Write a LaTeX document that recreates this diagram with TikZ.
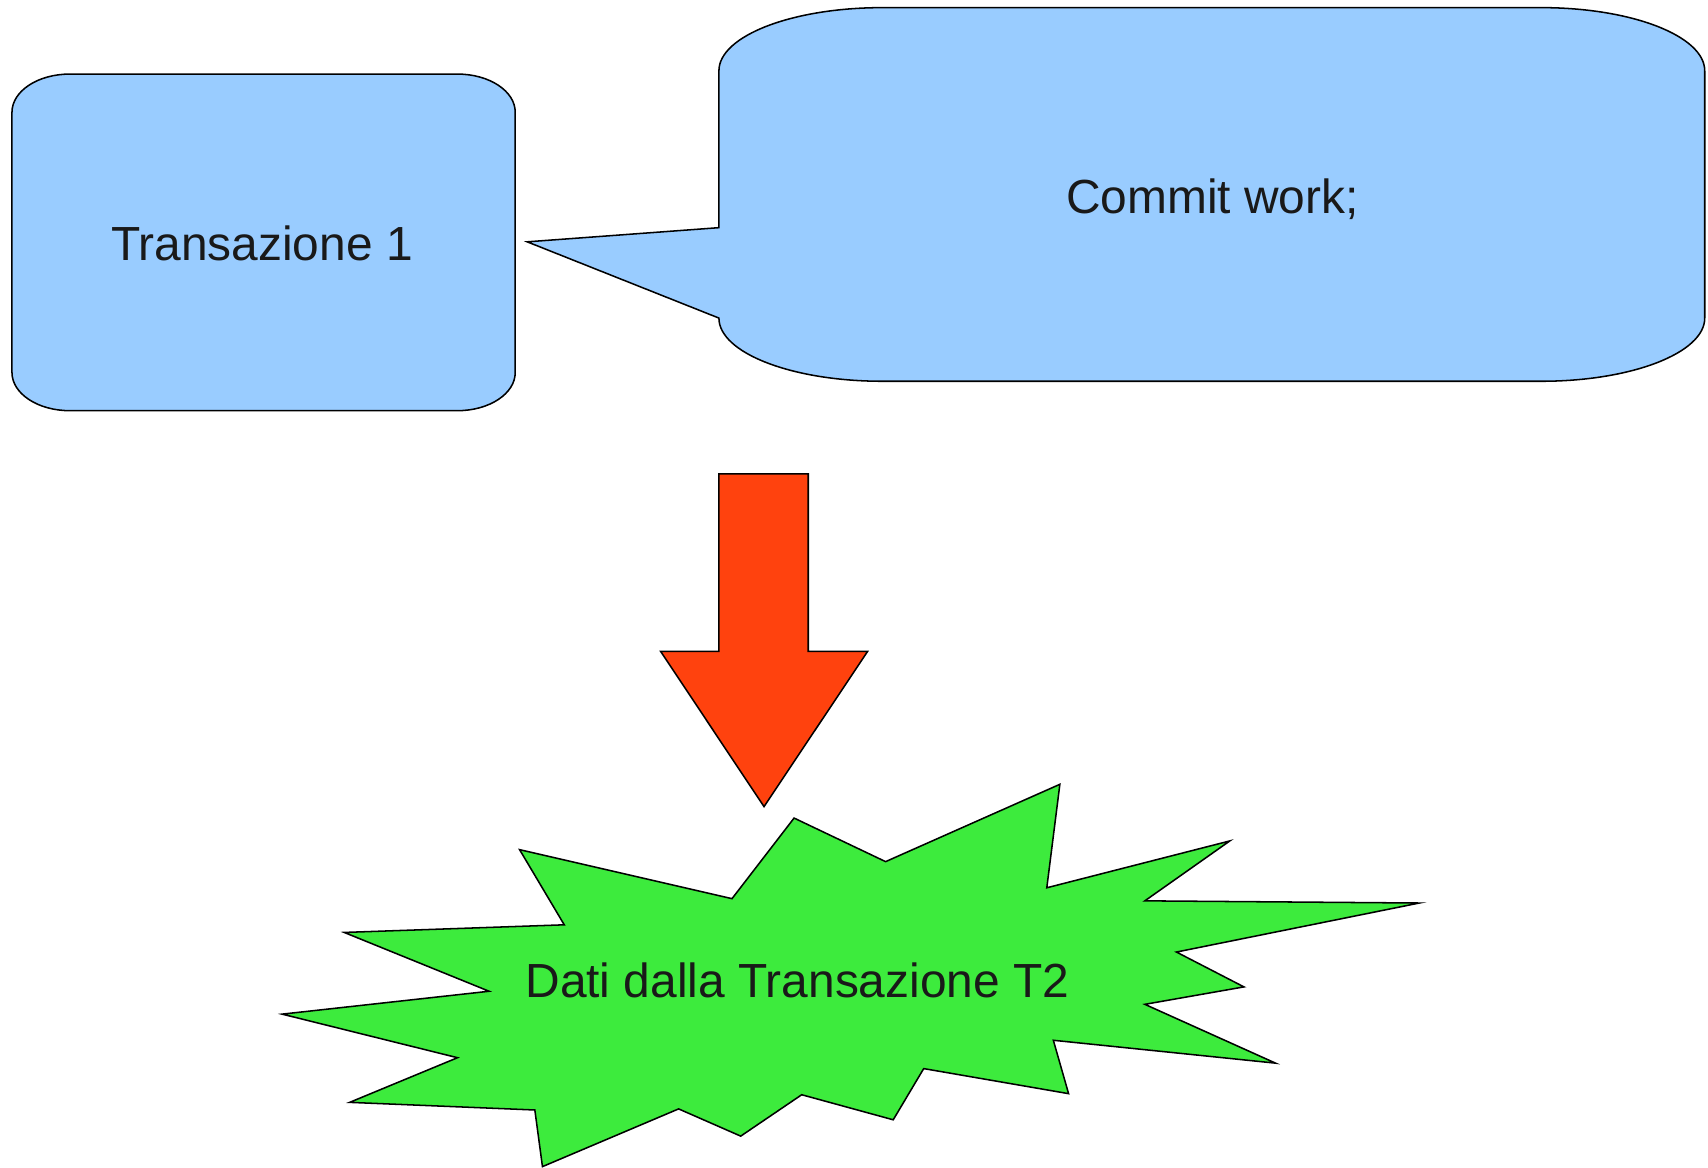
\documentclass[tikz,border=0pt]{standalone}
\usepackage{fontspec}
\setmainfont{Liberation Sans}
\definecolor{boxblue}{HTML}{99CCFF}
\definecolor{arrowred}{HTML}{FF420E}
\definecolor{stargreen}{HTML}{3DEB3D}
\begin{document}
\begin{tikzpicture}[x=0.01cm,y=-0.01cm,
  shapeline/.style={draw=black,line width=0.4pt,line join=miter},
  lbl/.style={font=\fontsize{12.5pt}{15pt}\selectfont,text=black!90,inner sep=0pt,anchor=base}]
\useasboundingbox (0,0) rectangle (1568,1072);
% Transazione 1 box
\path[shapeline,fill=boxblue] (11,103) -- (11,342) .. controls (11,361.3) and (34.7,377) .. (64,377)
  -- (420,377) .. controls (449.3,377) and (473,361.3) .. (473,342)
  -- (473,103) .. controls (473,83.7) and (449.3,68) .. (420,68)
  -- (64,68) .. controls (34.7,68) and (11,83.7) .. (11,103) -- cycle;
\node[lbl] (t1) at (240.5,239) {Transazione 1};
% callout
\path[shapeline,fill=boxblue] (660,209) -- (660,65) .. controls (660,33) and (727.2,7) .. (810,7)
  -- (1415,7) .. controls (1497.8,7) and (1565,33) .. (1565,65)
  -- (1565,292) .. controls (1565,324) and (1497.8,350) .. (1415,350)
  -- (810,350) .. controls (727.2,350) and (660,324) .. (660,292)
  -- (484,222) -- cycle;
\node[lbl] (cw) at (1113,196) {Commit work;};
% block arrow
\path[shapeline,fill=arrowred] (660,435) -- (742,435) -- (742,598) -- (796.5,598) -- (701.4,740.5)
  -- (606.5,598) -- (660,598) -- cycle;
% star
\path[shapeline,fill=stargreen] (477,780) -- (518,849) -- (316,856) -- (449,910) -- (259,931)
  -- (420,971) -- (321,1012) -- (491,1019) -- (498,1071) -- (623,1018) -- (680,1043)
  -- (736,1005) -- (820,1028) -- (848,981) -- (981,1004) -- (967,955) -- (1171,976)
  -- (1051,922) -- (1142,906) -- (1080,874) -- (1303,829) -- (1051,827) -- (1129,772)
  -- (961,815) -- (973,720) -- (813,791) -- (729,751) -- (672,825) -- cycle;
\node[lbl] (t2) at (732,916) {Dati dalla Transazione T2};
\end{tikzpicture}
\end{document}
